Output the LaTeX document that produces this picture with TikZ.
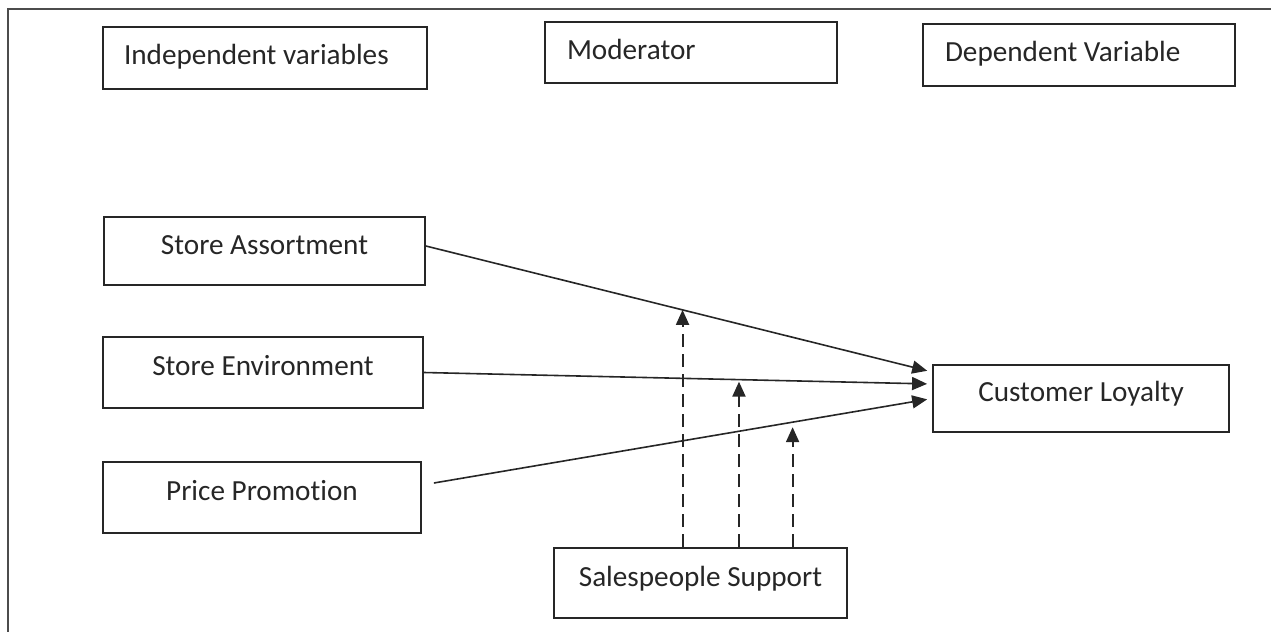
\documentclass[tikz,border=0pt]{standalone}
\usepackage{fontspec}
\setmainfont{Carlito}[Ligatures=NoCommon]
\usetikzlibrary{positioning,arrows.meta,calc}

\tikzset{
  varbox/.style={draw, line width=0.9pt, align=center, text height=10pt, text depth=7pt, inner sep=0pt},
  headbox/.style={draw, line width=0.9pt, align=flush left, text height=10pt, text depth=3.4pt, inner ysep=0pt, inner xsep=11pt},
  link/.style={line width=0.8pt, shorten >=2.5pt},
  modlink/.style={line width=1pt, dash pattern=on 6.5pt off 3.5pt}
}

\begin{document}
\begin{tikzpicture}[x=0.5pt, y=-0.5pt, >={Triangle[length=7.5pt,width=6.5pt]}, ->,
  font=\fontsize{14.6pt}{17pt}\selectfont, color=black!85]
  \useasboundingbox (0,0) rectangle (1271,632);
  % outer frame (only its top and left sides are in view)
  \draw[-, line width=1pt, black!70] (8,632) -- (8,9) -- (1271,9);

  % headings
  \node (indep) [headbox, text width=141pt, inner xsep=10.5pt, minimum height=31pt] at (265,58) {Independent variables};
  \node (moder) [headbox, text width=124pt, minimum height=30.5pt] at (691,52.5) {Moderator};
  \node (dep) [headbox, text width=134pt, minimum height=31pt] at (1079,55) {Dependent Variable};

  % variables
  \node (assort) [varbox, minimum width=160.5pt, minimum height=34pt] at (264.5,251) {Store Assortment};
  \node (env) [varbox, minimum width=160pt, minimum height=35.5pt] at (263,372.5) {Store Environment};
  \node (promo) [varbox, minimum width=159pt, minimum height=35.5pt] at (262,497.5) {Price Promotion};
  \node (loyal) [varbox, minimum width=148pt, minimum height=33.5pt] at (1081,398.5) {Customer Loyalty};
  \node (support) [varbox, minimum width=146.5pt, minimum height=35pt] at (700.5,583) {Salespeople Support};

  % direct effects
  \draw[link] ([yshift=2.5pt]assort.east) -- coordinate[pos=0.507] (m1) ([yshift=13.25pt]loyal.west);
  \draw[link] (env.east) -- coordinate[pos=0.62] (m2) ([yshift=7.25pt]loyal.west);
  \draw[link] ([xshift=6pt,yshift=7.25pt]promo.east) -- coordinate[pos=0.72] (m3) (loyal.west);

  % moderating effects
  \draw[modlink] (m1 |- support.north) -- (m1);
  \draw[modlink, shorten >=1pt] (m2 |- support.north) -- (m2);
  \draw[modlink, shorten >=2.5pt] (m3 |- support.north) -- (m3);
\end{tikzpicture}
\end{document}
